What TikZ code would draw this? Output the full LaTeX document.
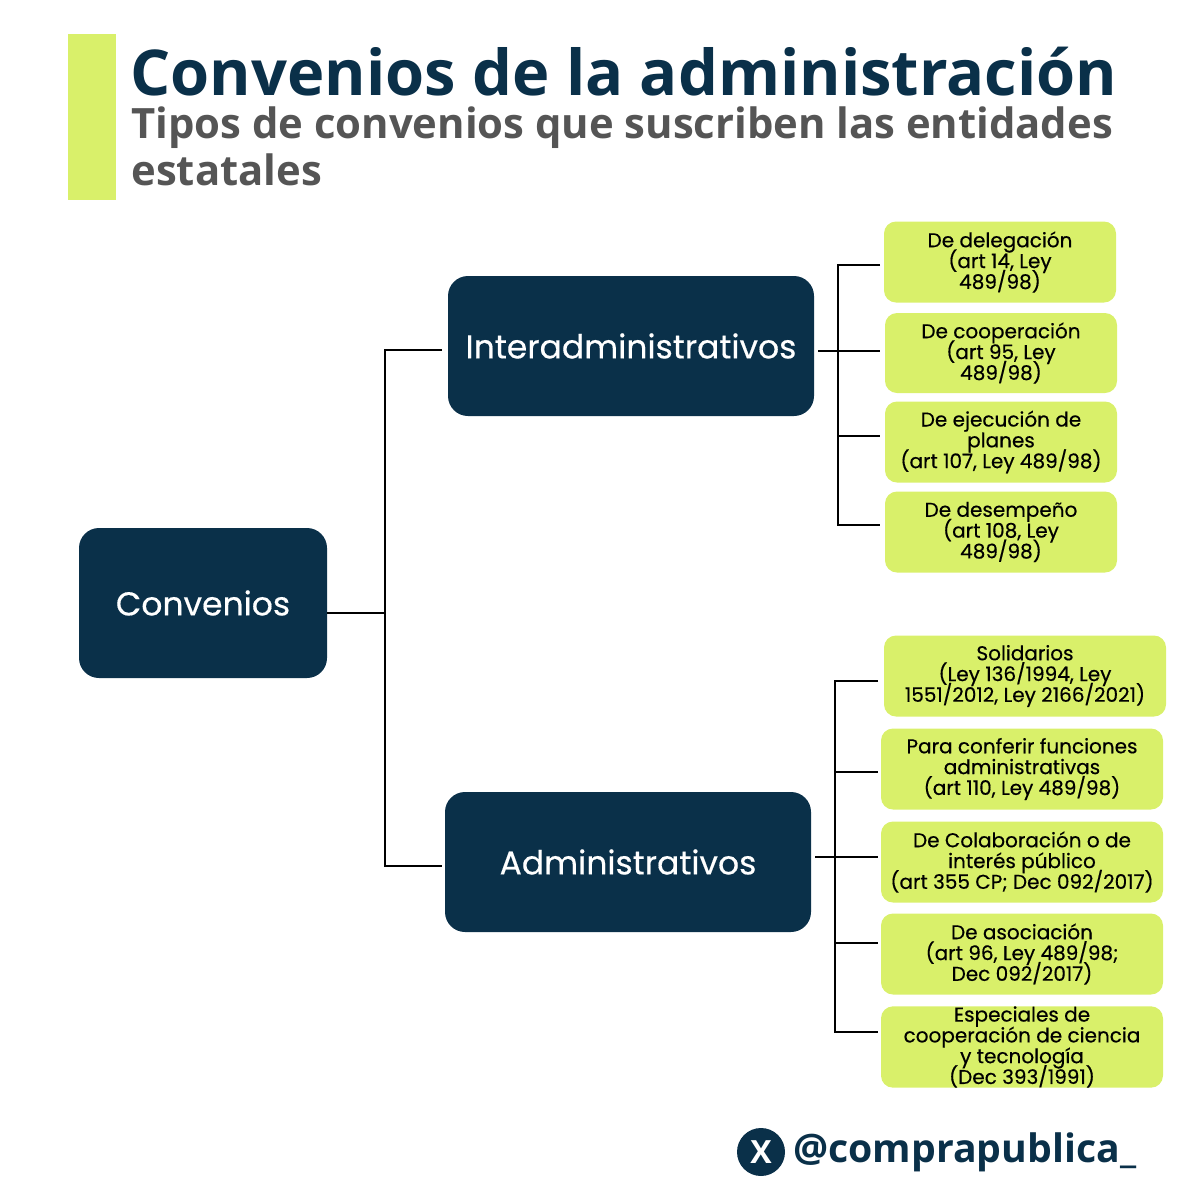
\documentclass[tikz,border=0pt]{standalone}
\usepackage{fontspec}
\setmainfont{Poppins}[FakeBold=0.4]
\newfontfamily\titlefont{Open Sans}
\usetikzlibrary{positioning}
\definecolor{navy}{HTML}{0A3049}
\definecolor{lime}{HTML}{D9F06A}
\definecolor{subgray}{HTML}{555555}
\newcommand\leaffont{\fontsize{10}{10.4}\selectfont\lineskiplimit=-10pt\relax}
\begin{document}
\begin{tikzpicture}[x=0.5pt,y=-0.5pt,
  main/.style={fill=navy,rounded corners=10pt,text=white,font=\fontsize{16.5}{18}\selectfont},
  leaf/.style={fill=lime,rounded corners=6pt,align=center,font=\leaffont,inner sep=0pt},
  link/.style={line width=1.3pt}]
\useasboundingbox (0,0) rectangle (1200,1200);

%header
\fill[lime] (68,34) rectangle (116,200);
\node[anchor=base west,inner sep=0,text=navy,font=\titlefont\bfseries\fontsize{31.6}{34}\selectfont] at (130,95) {Convenios de la administración};
\node[anchor=north west,inner sep=0,text=subgray,align=left,font=\titlefont\bfseries\fontsize{20.9}{23.5}\selectfont] at (131,106) {Tipos de convenios que suscriben las entidades\\estatales};

%main boxes
\node[main,minimum width=124pt,minimum height=75pt] (conv) at (203,603) {Convenios};
\node[main,minimum width=183pt,minimum height=70pt] (inter) at (631,346) {Interadministrativos};
\node[main,minimum width=183pt,minimum height=70pt] (admin) at (628,862) {Administrativos};

%leaves
\node[leaf,minimum width=116pt,minimum height=40.5pt] (l1) at (1000,262) {De delegación\\(art 14, Ley\\489/98)};
\node[leaf,minimum width=116pt,minimum height=40pt] (l2) at (1001,353) {De cooperación\\(art 95, Ley\\489/98)};
\node[leaf,minimum width=116pt,minimum height=40.5pt] (l3) at (1001,442) {De ejecución de\\planes\\(art 107, Ley 489/98)};
\node[leaf,minimum width=116pt,minimum height=40.5pt] (l4) at (1001,532) {De desempeño\\(art 108, Ley\\489/98)};
\node[leaf,minimum width=141pt,minimum height=40.5pt] (r1) at (1025,676) {Solidarios\\(Ley 136/1994, Ley\\1551/2012, Ley 2166/2021)};
\node[leaf,minimum width=141pt,minimum height=40.5pt] (r2) at (1022,769) {Para conferir funciones\\administrativas\\(art 110, Ley 489/98)};
\node[leaf,minimum width=141pt,minimum height=40.5pt] (r3) at (1022,862) {De Colaboración o de\\interés público\\(art 355 CP; Dec 092/2017)};
\node[leaf,minimum width=141pt,minimum height=40.5pt] (r4) at (1022,954) {De asociación\\(art 96, Ley 489/98;\\Dec 092/2017)};
\node[leaf,minimum width=141pt,minimum height=40.5pt] (r5) at (1022,1047) {Especiales de\\cooperación de ciencia\\y tecnología\\(Dec 393/1991)};

%connectors
\coordinate (c0) at (385,613);
\draw[link] (conv.east|-c0) -- (c0);
\draw[link] (442,350) -| (385,866) -- (442,866);
\coordinate (c1) at (838,351);
\draw[link] (818,351) -- (c1);
\draw[link] (880,265) -| (838,525) -- (880,525);
\foreach \y in {351,436} \draw[link] (838,\y) -- (880,\y);
\coordinate (c2) at (835,857);
\draw[link] (815,857) -- (c2);
\draw[link] (878,681) -| (835,1032) -- (878,1032);
\foreach \y in {772,857,943} \draw[link] (835,\y) -- (878,\y);

%footer
\node[circle,fill=navy,minimum size=24pt,inner sep=0,text=white,font=\titlefont\bfseries\fontsize{16}{16}\selectfont] (xlogo) at (761,1152) {X};
\node[anchor=west,inner sep=0,text=navy,font=\titlefont\bfseries\fontsize{19.6}{24}\selectfont] (handle) at (793,1152) {@comprapublica\_};
\end{tikzpicture}
\end{document}
